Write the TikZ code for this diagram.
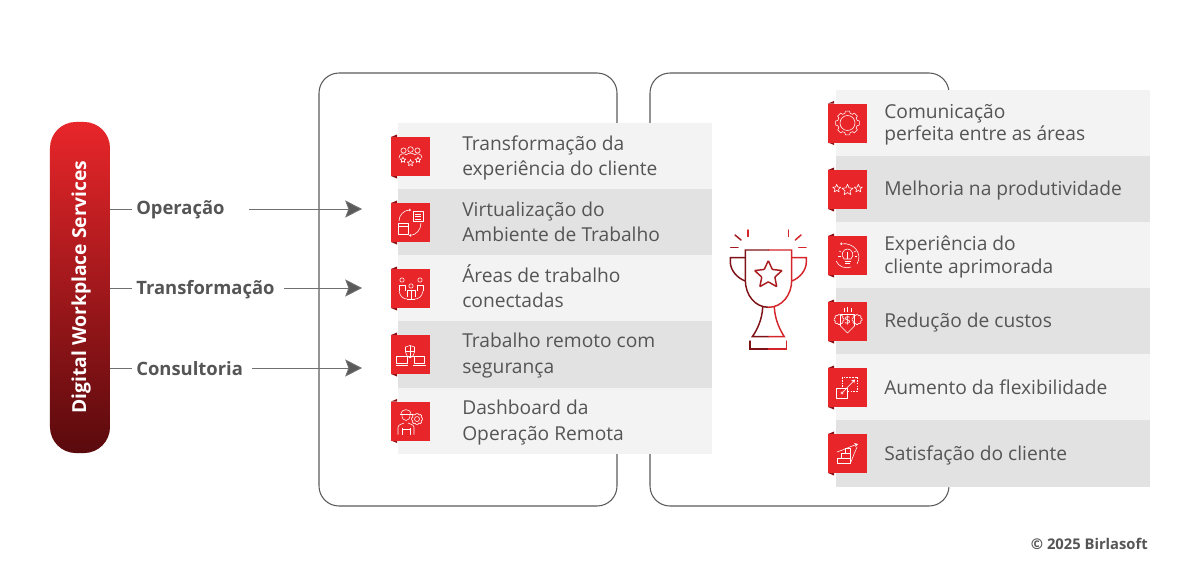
\documentclass[tikz,border=0pt]{standalone}
\usepackage{fontspec}
\setmainfont{Open Sans}
\usetikzlibrary{arrows.meta,shapes.geometric}

\definecolor{txtgray}{HTML}{555555}
\definecolor{linegray}{HTML}{707070}
\definecolor{boxgray}{HTML}{5A5A5A}
\definecolor{rowlight}{HTML}{F3F3F3}
\definecolor{rowdark}{HTML}{E2E2E2}
\definecolor{badgered}{HTML}{E8262A}
\definecolor{barbottom}{HTML}{5A0A0D}
\definecolor{flapred}{HTML}{8E1418}
\definecolor{cupbright}{HTML}{D4252A}
\definecolor{cupdark}{HTML}{7E1216}

\tikzset{
  outerbox/.style={draw=boxgray,line width=0.75pt,rounded corners=0.5cm},
  rowlightbox/.style={fill=rowlight},
  rowdarkbox/.style={fill=rowdark},
  badge/.style={fill=badgered,minimum width=0.975cm,minimum height=0.975cm,inner sep=0pt,anchor=north west},
  flap/.style={fill=flapred},
  lefttext/.style={anchor=west,align=left,inner sep=0pt,text=txtgray,font=\fontsize{13.65}{17.8}\selectfont},
  righttext/.style={anchor=west,align=left,inner sep=0pt,text=txtgray,font=\fontsize{13.65}{16}\selectfont},
  leadtext/.style={anchor=west,inner xsep=0.1cm,inner ysep=0pt,text=txtgray,font=\fontsize{13.1}{16}\selectfont\bfseries},
  linkline/.style={draw=linegray,line width=0.65pt},
  linkarrow/.style={linkline,-{Stealth[length=0.42cm,width=0.43cm,inset=0.08cm,fill=boxgray]}},
  iconline/.style={draw=white,line width=0.4pt,line join=round},
  cupline/.style={line width=1.05pt,line cap=round},
  tinystar/.pic={\draw[iconline] (270:1)--(306:.45)--(342:1)--(18:.45)--(54:1)--(90:.45)--(126:1)--(162:.45)--(198:1)--(234:.45)--cycle;},
  tinygear/.pic={\foreach \a in {0,45,...,315}
    \draw[iconline] (\a-10:12)--(\a+10:12)--(\a+15:10)--(\a+30:10)--(\a+35:12);},
}

\begin{document}
\begin{tikzpicture}[x=0.025cm,y=-0.025cm]
\useasboundingbox (0,0) rectangle (1200,580);

% big frames
\draw[outerbox] (319,73) rectangle (617,506);
\draw[outerbox] (650,73) rectangle (949,506);

% left bar
\node (dws) at (80,287.5) [rounded corners=0.65cm,minimum width=1.5cm,minimum height=8.275cm,inner sep=0pt,top color=badgered,bottom color=barbottom] {};
\node (dwstext) at (81,287) [rotate=90,inner sep=0pt,text=white,font=\fontsize{13.7}{16}\selectfont\bfseries] {Digital Workplace Services};

% labels and arrows
\node (operacao) at (132,210) [leadtext] {Operação};
\node (transformacao) at (132,290) [leadtext] {Transformação};
\node (consultoria) at (132,369) [leadtext] {Consultoria};
\coordinate (opstart) at (249,209);
\coordinate (opend) at (362,209);
\coordinate (trstart) at (284,288);
\coordinate (trend) at (362,288);
\coordinate (costart) at (252,368);
\coordinate (coend) at (362,368);
\draw[linkline] (dws.east |- opstart) -- (operacao.west |- opstart);
\draw[linkline] (dws.east |- trstart) -- (transformacao.west |- trstart);
\draw[linkline] (dws.east |- costart) -- (consultoria.west |- costart);
\draw[linkarrow] (opstart) -- (opend);
\draw[linkarrow] (trstart) -- (trend);
\draw[linkarrow] (costart) -- (coend);

% left rows
\fill[rowlightbox] (398,123) rectangle (712,189);
\fill[rowdarkbox] (398,189) rectangle (712,255);
\fill[rowlightbox] (398,255) rectangle (712,321);
\fill[rowdarkbox] (398,321) rectangle (712,388);
\fill[rowlightbox] (398,388) rectangle (712,454);
\node (lefttext1) at (462,157.5) [lefttext] {Transformação da\\experiência do cliente};
\node (lefttext2) at (462,221.5) [lefttext] {Virtualização do\\Ambiente de Trabalho};
\node (lefttext3) at (462,286.5) [lefttext] {Áreas de trabalho\\conectadas};
\node (lefttext4) at (462,355.5) [lefttext] {Trabalho remoto com\\segurança};
\node (lefttext5) at (462,422.5) [lefttext] {Dashboard da\\Operação Remota};

% right rows
\fill[rowlightbox] (836,90) rectangle (1150,156);
\fill[rowdarkbox] (836,156) rectangle (1150,222);
\fill[rowlightbox] (836,222) rectangle (1150,288);
\fill[rowdarkbox] (836,288) rectangle (1150,354);
\fill[rowlightbox] (836,354) rectangle (1150,420);
\fill[rowdarkbox] (836,420) rectangle (1150,487);
\node (righttext1) at (884,125) [righttext] {Comunicação\\perfeita entre as áreas};
\node (righttext2) at (884,191) [righttext] {Melhoria na produtividade};
\node (righttext3) at (884,257) [righttext] {Experiência do\\cliente aprimorada};
\node (righttext4) at (884,323) [righttext] {Redução de custos};
\node (righttext5) at (884,387.5) [righttext] {Aumento da flexibilidade};
\node (righttext6) at (884,455) [righttext] {Satisfação do cliente};

% left badges
\fill[flap] (391,137) -- (397,134.5) -- (397,137) -- cycle;
\fill[flap] (391,176) -- (397,178.5) -- (397,176) -- cycle;
\node (leftbadge1) at (391,137) [badge] {};
\fill[flap] (391,203) -- (397,200.5) -- (397,203) -- cycle;
\fill[flap] (391,242) -- (397,244.5) -- (397,242) -- cycle;
\node (leftbadge2) at (391,203) [badge] {};
\fill[flap] (391,269) -- (397,266.5) -- (397,269) -- cycle;
\fill[flap] (391,308) -- (397,310.5) -- (397,308) -- cycle;
\node (leftbadge3) at (391,269) [badge] {};
\fill[flap] (391,335) -- (397,332.5) -- (397,335) -- cycle;
\fill[flap] (391,374) -- (397,376.5) -- (397,374) -- cycle;
\node (leftbadge4) at (391,335) [badge] {};
\fill[flap] (391,401.5) -- (397,399) -- (397,401.5) -- cycle;
\fill[flap] (391,440.5) -- (397,443) -- (397,440.5) -- cycle;
\node (leftbadge5) at (391,401.5) [badge] {};

% right badges
\fill[flap] (828,103.5) -- (834,101) -- (834,103.5) -- cycle;
\fill[flap] (828,142.5) -- (834,145) -- (834,142.5) -- cycle;
\node (rightbadge1) at (828,103.5) [badge] {};
\fill[flap] (828,170) -- (834,167.5) -- (834,170) -- cycle;
\fill[flap] (828,209) -- (834,211.5) -- (834,209) -- cycle;
\node (rightbadge2) at (828,170) [badge] {};
\fill[flap] (828,236) -- (834,233.5) -- (834,236) -- cycle;
\fill[flap] (828,275) -- (834,277.5) -- (834,275) -- cycle;
\node (rightbadge3) at (828,236) [badge] {};
\fill[flap] (828,302) -- (834,299.5) -- (834,302) -- cycle;
\fill[flap] (828,341) -- (834,343.5) -- (834,341) -- cycle;
\node (rightbadge4) at (828,302) [badge] {};
\fill[flap] (828,368) -- (834,365.5) -- (834,368) -- cycle;
\fill[flap] (828,407) -- (834,409.5) -- (834,407) -- cycle;
\node (rightbadge5) at (828,368) [badge] {};
\fill[flap] (828,434) -- (834,431.5) -- (834,434) -- cycle;
\fill[flap] (828,473) -- (834,475.5) -- (834,473) -- cycle;
\node (rightbadge6) at (828,434) [badge] {};

% icon: people with stars
\begin{scope}[shift={(391,137)}]
\draw[iconline] (12.5,13.5) circle (2.6);
\draw[iconline] (19.5,12.5) circle (2.8);
\draw[iconline] (26.5,13.5) circle (2.6);
\draw[iconline] (8,21) .. controls (8,16.5) and (13,16) .. (15,17.5);
\draw[iconline] (15,18) .. controls (17,15.5) and (22,15.5) .. (24,18);
\draw[iconline] (24,17.5) .. controls (26,16) and (31,16.5) .. (31,21);
\pic[scale=3] at (12,23) {tinystar};
\pic[scale=3.4] at (19.5,26) {tinystar};
\pic[scale=3] at (27,23) {tinystar};
\end{scope}

% icon: virtual workplace
\begin{scope}[shift={(391,203)}]
\draw[iconline] (7,20) rectangle (17,31);
\draw[iconline] (7,23) -- (17,23);
\draw[iconline] (22,8) rectangle (32,18);
\draw[iconline] (24,11) -- (30,11);
\draw[iconline] (24,13.5) -- (30,13.5);
\draw[iconline] (24,16) -- (30,16);
\draw[iconline,-{Stealth[length=1.5pt,width=2pt]}] (8,18) .. controls (8,12) and (13,7) .. (20,7);
\draw[iconline,-{Stealth[length=1.5pt,width=2pt]}] (30,20) .. controls (30,27) and (25,32) .. (18,32.5);
\end{scope}

% icon: connected workplaces
\begin{scope}[shift={(391,269)}]
\draw[iconline] (11,11) circle (2.2);
\draw[iconline] (29,11) circle (2.2);
\draw[iconline] (20,17) circle (2.2);
\draw[iconline] (8,22) -- (8,16) -- (14,16) -- (14,22);
\draw[iconline] (26,22) -- (26,16) -- (32,16) -- (32,22);
\draw[iconline] (16,28) -- (16,21) -- (24,21) -- (24,28);
\draw[iconline] (8,22) .. controls (9,28) and (13,30) .. (16,30);
\draw[iconline] (32,22) .. controls (31,28) and (27,30) .. (24,30);
\draw[iconline] (16,30) -- (24,30);
\draw[iconline] (20,21) -- (20,30);
\end{scope}

% icon: remote work with security
\begin{scope}[shift={(391,335)}]
\draw[iconline] (14.5,12) -- (19,10.5) -- (23.5,12) -- (23.5,17) .. controls (23.5,20) and (21,22) .. (19,23) .. controls (17,22) and (14.5,20) .. (14.5,17) -- cycle;
\draw[iconline] (19,10.5) -- (19,23);
\draw[iconline] (14.5,16) -- (23.5,16);
\draw[iconline] (5.5,21) rectangle (16,28.5);
\draw[iconline] (23,21) rectangle (33.5,28.5);
\draw[iconline] (4.5,30) -- (17,30);
\draw[iconline] (22,30) -- (34.5,30);
\draw[iconline] (16,21) -- (19,21);
\draw[iconline] (23,21) -- (19,21);
\end{scope}

% icon: worker with gear
\begin{scope}[shift={(391,401.5)}]
\draw[iconline] (10,13) .. controls (10,6.5) and (20,6.5) .. (20,13);
\draw[iconline] (8.5,13) -- (21.5,13);
\draw[iconline] (11,13) .. controls (10.5,21) and (19.5,21) .. (19,13);
\draw[iconline] (7,33) -- (7,26) .. controls (7,23) and (11,22.5) .. (13,21.5);
\draw[iconline] (23,33) -- (23,26) .. controls (23,23) and (19,22.5) .. (17,21.5);
\draw[iconline] (11,33) -- (11,26);
\draw[iconline] (19,33) -- (19,26);
\draw[iconline] (11,28) -- (19,28);
\pic[scale=0.47] at (26,17.5) {tinygear};
\draw[iconline] (26,17.5) circle (2.5);
\end{scope}

% icon: gear
\begin{scope}[shift={(828,103.5)}]
\pic at (19.5,19.5) {tinygear};
\draw[iconline] (19.5,19.5) circle (7.5);
\end{scope}

% icon: three stars
\begin{scope}[shift={(828,170)}]
\pic[scale=4.2] at (8.7,18.5) {tinystar};
\pic[scale=5.8] at (19.5,20) {tinystar};
\pic[scale=4.2] at (30.3,18.5) {tinystar};
\end{scope}

% icon: bulb
\begin{scope}[shift={(828,236)}]
\draw[iconline,-{Stealth[length=1.5pt,width=2pt]}] (29,28) .. controls (35,18) and (26,6) .. (12,8);
\draw[iconline] (23,31) .. controls (17,33) and (11,31) .. (8,25);
\draw[iconline] (16,23) .. controls (12,19) and (15,13) .. (19.5,13) .. controls (24,13) and (27,19) .. (23,23) -- cycle;
\draw[iconline] (16.5,25) -- (22.5,25);
\draw[iconline] (17,27) -- (22,27);
\draw[iconline] (19.5,16) -- (19.5,23);
\draw[iconline] (11,15) -- (13,16);
\draw[iconline] (10,20) -- (12.5,20);
\draw[iconline] (28,15) -- (26,16);
\draw[iconline] (29,20) -- (26.5,20);
\end{scope}

% icon: cost saving
\begin{scope}[shift={(828,302)}]
\pic[scale=0.42] at (11,17.5) {tinygear};
\pic[scale=0.42] at (29,17.5) {tinygear};
\draw[iconline] (12.5,12.5) -- (26.5,12.5) -- (26.5,24) -- (19.5,31) -- (12.5,24) -- cycle;
\node (dollar) at (19.5,19) [inner sep=0pt,text=white,font=\fontsize{8}{8}\selectfont] {\$};
\draw[iconline] (16,6) -- (16,10);
\draw[iconline] (19.5,5) -- (19.5,10);
\draw[iconline] (23,6) -- (23,10);
\end{scope}

% icon: flexibility
\begin{scope}[shift={(828,368)}]
\draw[iconline,dashed,dash pattern=on 1.2pt off 0.8pt] (14.5,9) rectangle (29.5,23.5);
\fill[badgered] (8.5,20) rectangle (19.5,30.5);
\draw[iconline] (8.5,20) rectangle (19.5,30.5);
\draw[iconline] (14,25) circle (1.2);
\draw[iconline,-{Stealth[length=2.5pt,width=3pt]}] (14.5,24.5) -- (27,11.5);
\end{scope}

% icon: stairs
\begin{scope}[shift={(828,434)}]
\draw[iconline] (9,24) rectangle (22,29);
\draw[iconline] (13,19) rectangle (22,24);
\draw[iconline] (17,14) rectangle (22,19);
\draw[iconline,-{Stealth[length=2.5pt,width=3pt]}] (9,18) .. controls (15,16) and (21,13) .. (30,10);
\draw[iconline] (23,28) .. controls (25,22) and (27,18) .. (29,13);
\end{scope}

% trophy
\draw[cupline,cupbright] (748,230) -- (748,236.5);
\draw[cupline,cupbright] (788.3,230) -- (788.3,236.5);
\draw[cupline,cupdark!60!cupbright] (735,235) -- (741,240);
\draw[cupline,cupbright] (801,235) -- (795.3,240);
\draw[cupline,cupdark!60!cupbright] (730.7,247.7) -- (738,247.7);
\draw[cupline,cupbright] (798.7,247.7) -- (806,247.7);
\draw[cupline,cupdark] (768.5,307.3) .. controls (755,307.3) and (745.3,295) .. (745.3,280) -- (745.3,250) -- (768.5,250);
\draw[cupline,cupbright] (768.5,250) -- (791.7,250) -- (791.7,280) .. controls (791.7,295) and (782,307.3) .. (768.5,307.3);
\draw[cupline,cupdark] (745.3,257.7) -- (730.3,257.7) -- (730.3,262) .. controls (730.3,270) and (737,278) .. (745.3,281);
\draw[cupline,cupbright] (791.7,257.7) -- (806.3,257.7) -- (806.3,262) .. controls (806.3,270) and (800,278) .. (791.7,281);
\draw[cupline,cupdark] (762.7,307.3) .. controls (762,320) and (757,330) .. (752.3,336.7) -- (768.5,336.7);
\draw[cupline,cupbright] (774.3,307.3) .. controls (775,320) and (780,330) .. (784.3,336.7) -- (768.5,336.7);
\draw[cupline,cupdark] (750,341) -- (750,349) -- (768.5,349);
\draw[cupline,cupbright] (768.5,349) -- (786.7,349) -- (786.7,341);
\node (cupstar) at (768.3,275) [star,star points=5,star point ratio=2.1,draw=cupdark!50!cupbright,line width=1.05pt,rounded corners=0.5pt,minimum size=0.72cm,inner sep=0pt] {};

% footer
\node (copyrightnote) at (1148,544) [anchor=east,inner sep=0pt,text=txtgray,font=\fontsize{10.5}{12}\selectfont\bfseries] {© 2025 Birlasoft};
\end{tikzpicture}
\end{document}
